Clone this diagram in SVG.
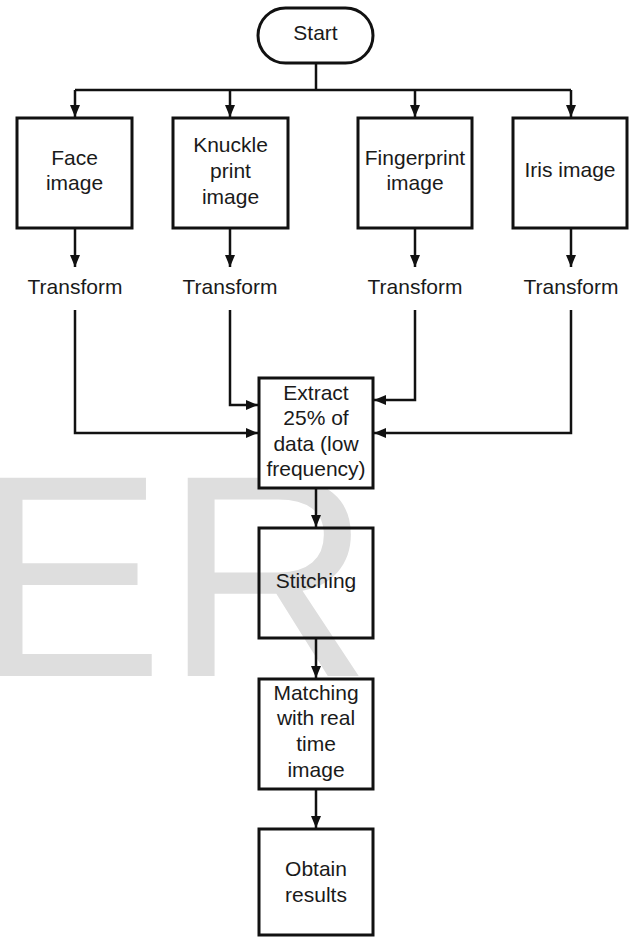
<svg xmlns="http://www.w3.org/2000/svg" width="629" height="938" viewBox="0 0 629 938">
  <style>
    .box { fill: #ffffff; stroke: #111111; stroke-width: 3; }
    .clear { fill: none; stroke: #111111; stroke-width: 3; }
    .lbl { font-family: "Liberation Sans", Arial, sans-serif; font-size: 21px; fill: #1a1a1a; text-anchor: middle; }
    .wire { fill: none; stroke: #111111; stroke-width: 2.5; }
    .arr { marker-end: url(#ah); }
    .wm { font-family: "Liberation Sans", Arial, sans-serif; font-size: 288px; fill: #dedede; }
  </style>
  <defs>
    <marker id="ah" viewBox="0 0 12 10" refX="12" refY="5" markerWidth="12" markerHeight="10" orient="auto" markerUnits="userSpaceOnUse">
      <path d="M0,0 L12,5 L0,10 z" fill="#111111"/>
    </marker>
  </defs>
  <rect x="0" y="0" width="629" height="938" fill="#ffffff"/>
  <text class="wm" x="-28" y="676">ER</text>

  <g id="connectors">
    <path class="wire" d="M316,63 V90"/>
    <path class="wire" d="M75,90 H571"/>
    <path class="wire arr" d="M75,90 V117"/>
    <path class="wire arr" d="M230,90 V117"/>
    <path class="wire arr" d="M415,90 V117"/>
    <path class="wire arr" d="M571,90 V117"/>
    <path class="wire arr" d="M75,228 V267"/>
    <path class="wire arr" d="M230,228 V267"/>
    <path class="wire arr" d="M415,228 V267"/>
    <path class="wire arr" d="M571,228 V267"/>
    <path class="wire arr" d="M75,310 V433 H258"/>
    <path class="wire arr" d="M230,310 V405 H258"/>
    <path class="wire arr" d="M415,310 V400 H374"/>
    <path class="wire arr" d="M571,310 V433 H374"/>
    <path class="wire arr" d="M316,488 V527"/>
    <path class="wire arr" d="M316,638 V678"/>
    <path class="wire arr" d="M316,789 V828"/>
  </g>

  <g id="start">
    <rect class="box" x="258" y="8" width="115" height="55" rx="27.5"/>
    <text class="lbl" x="315.5" y="40">Start</text>
  </g>
  <g id="face">
    <rect class="box" x="17" y="118" width="115" height="110"/>
    <text class="lbl" x="74.5" y="165">Face</text>
    <text class="lbl" x="74.5" y="190">image</text>
  </g>
  <g id="knuckle">
    <rect class="box" x="173" y="118" width="115" height="110"/>
    <text class="lbl" x="230.5" y="152">Knuckle</text>
    <text class="lbl" x="230.5" y="178">print</text>
    <text class="lbl" x="230.5" y="204">image</text>
  </g>
  <g id="fingerprint">
    <rect class="box" x="358" y="118" width="114" height="110"/>
    <text class="lbl" x="415" y="165">Fingerprint</text>
    <text class="lbl" x="415" y="190">image</text>
  </g>
  <g id="iris">
    <rect class="box" x="513" y="118" width="114" height="110"/>
    <text class="lbl" x="570" y="177">Iris image</text>
  </g>
  <g id="transform-face"><text class="lbl" x="75" y="294">Transform</text></g>
  <g id="transform-knuckle"><text class="lbl" x="230" y="294">Transform</text></g>
  <g id="transform-fingerprint"><text class="lbl" x="415" y="294">Transform</text></g>
  <g id="transform-iris"><text class="lbl" x="571" y="294">Transform</text></g>
  <g id="extract">
    <rect class="box" x="259" y="378" width="114" height="110"/>
    <text class="lbl" x="316" y="400">Extract</text>
    <text class="lbl" x="316" y="425">25% of</text>
    <text class="lbl" x="316" y="451">data (low</text>
    <text class="lbl" x="316" y="476">frequency)</text>
  </g>
  <g id="stitching">
    <rect class="clear" x="259" y="528" width="114" height="110"/>
    <text class="lbl" x="316" y="588">Stitching</text>
  </g>
  <g id="matching">
    <rect class="box" x="259" y="679" width="114" height="110"/>
    <text class="lbl" x="316" y="700">Matching</text>
    <text class="lbl" x="316" y="725">with real</text>
    <text class="lbl" x="316" y="751">time</text>
    <text class="lbl" x="316" y="777">image</text>
  </g>
  <g id="obtain">
    <rect class="box" x="259" y="829" width="114" height="106"/>
    <text class="lbl" x="316" y="876">Obtain</text>
    <text class="lbl" x="316" y="902">results</text>
  </g>
</svg>
